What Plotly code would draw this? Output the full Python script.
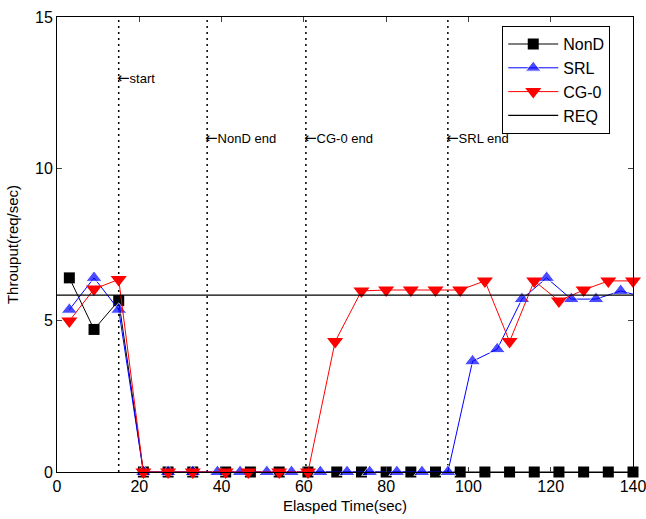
import plotly.graph_objects as go

# ---- data ----
nond_t = [3, 9, 15, 21, 27, 33, 41, 47, 54, 61, 68, 74, 80, 86, 92, 98, 104, 110, 116, 122, 128, 134, 140]
nond_v = [6.4, 4.7, 5.65, 0, 0, 0, 0, 0, 0, 0, 0, 0, 0, 0, 0, 0, 0, 0, 0, 0, 0, 0, 0]

srl_t = [3, 9, 15, 21, 27, 33, 39, 44.5, 51, 57, 64, 70.5, 76, 82.6, 88.7, 95, 101, 107, 113, 119, 125, 131, 137, 143]
srl_v = [5.35, 6.4, 5.35, 0, 0, 0, 0, 0, 0, 0, 0, 0, 0, 0, 0, 0, 3.65, 4.05, 5.7, 6.4, 5.7, 5.7, 5.97, 5.75]

cg_t = [3, 9, 15, 21, 27, 33, 41, 46.5, 54, 61, 67.6, 74, 80, 86, 92, 98, 104, 110, 116, 122, 128, 134, 140]
cg_v = [4.98, 6.03, 6.35, 0, 0, 0, 0, 0, 0, 0, 4.3, 5.97, 6.0, 6.0, 6.0, 6.0, 6.3, 4.3, 6.3, 5.64, 6.0, 6.3, 6.3]

req_t = [0, 140]
req_v = [5.83, 5.83]

event_t = [15, 36.5, 60.5, 95]
event_label = ["←start", "←NonD end", "←CG-0 end", "←SRL end"]
event_y = [13, 11, 11, 11]

x_ticks = [0, 20, 40, 60, 80, 100, 120, 140]
y_ticks = [0, 5, 10, 15]

FONT = "Liberation Sans, Arial, Helvetica, sans-serif"

fig = go.Figure()

fig.add_trace(go.Scatter(
    x=nond_t, y=nond_v, name="NonD", mode="lines+markers",
    line=dict(color="black", width=1),
    marker=dict(symbol="square", size=11, color="black"),
    cliponaxis=False,
))
srl_sizes = [14] * (len(srl_t) - 1) + [0]
fig.add_trace(go.Scatter(
    x=srl_t, y=srl_v, name="SRL", mode="lines+markers",
    line=dict(color="#0000ff", width=1),
    marker=dict(symbol="triangle-up", size=srl_sizes, color="#0000ff"),
    cliponaxis=False,
))
fig.add_trace(go.Scatter(
    x=cg_t, y=cg_v, name="CG-0", mode="lines+markers",
    line=dict(color="#ff0000", width=1),
    marker=dict(symbol="triangle-down", size=14, color="#ff0000"),
    cliponaxis=False,
))
fig.add_trace(go.Scatter(
    x=req_t, y=req_v, name="REQ", mode="lines",
    line=dict(color="black", width=1.2),
))

for t, lab, yy in zip(event_t, event_label, event_y):
    fig.add_shape(type="line", x0=t, x1=t, y0=0, y1=15, xref="x", yref="y",
                  line=dict(color="black", width=1.5, dash="2px,4px"), layer="below")
    arrow, rest = lab[0], lab[1:]
    fig.add_annotation(x=t, y=yy, xref="x", yref="y",
                       text='<span style="font-family:DejaVu Sans;font-size:15px">' + arrow + '</span>' + rest,
                       showarrow=False, xanchor="left", yanchor="middle", xshift=-4,
                       font=dict(family=FONT, size=13, color="black"))

fig.update_layout(
    width=646, height=519,
    margin=dict(l=57, r=13, t=17, b=47),
    paper_bgcolor="white", plot_bgcolor="white",
    font=dict(family=FONT, size=14, color="black"),
    showlegend=True,
    legend=dict(x=0.773, y=0.98, xanchor="left", yanchor="top",
                bgcolor="white", bordercolor="black", borderwidth=1,
                font=dict(family=FONT, size=16, color="black"),
                tracegroupgap=0, itemwidth=50),
)
fig.update_xaxes(range=[0, 140], tickvals=x_ticks, ticks="inside", ticklen=5,
                 showline=True, linecolor="black", linewidth=1, mirror="ticks",
                 showgrid=False, zeroline=False, automargin=False,
                 ticklabeloverflow="allow",
                 title=dict(text="Elasped Time(sec)", standoff=6, font=dict(size=15)),
                 tickfont=dict(size=16))
fig.update_yaxes(range=[0, 15], tickvals=y_ticks, ticks="inside", ticklen=5,
                 showline=True, linecolor="black", linewidth=1, mirror="ticks",
                 showgrid=False, zeroline=False, automargin=False,
                 ticklabeloverflow="allow",
                 title=dict(text="Throuput(req/sec)", standoff=12, font=dict(size=15)),
                 tickfont=dict(size=16))

fig.write_html("out.html",
               config={"displayModeBar": False},
               post_script="document.body.style.margin='0';document.body.style.overflow='hidden';")
